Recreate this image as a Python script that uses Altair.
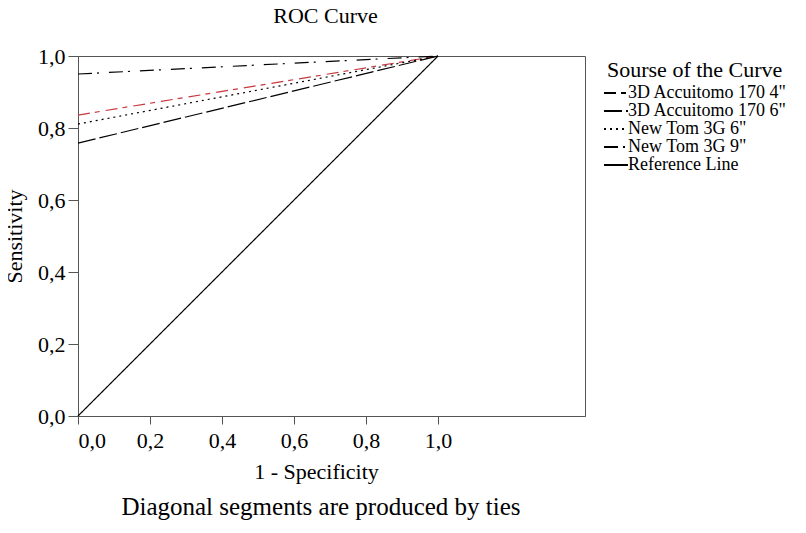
import altair as alt
import pandas as pd

# Data
series = ['3D Accuitomo 170 4"', '3D Accuitomo 170 6"', 'New Tom 3G 6"', 'New Tom 3G 9"', 'Reference Line']
start_fpr = [0.0, 0.0, 0.0, 0.0, 0.0]
start_sens = [0.836, 0.758, 0.811, 0.950, 0.0]
end_fpr = [1.0, 1.0, 1.0, 1.0, 1.0]
end_sens = [1.0, 1.0, 1.0, 1.0, 1.0]
x_ticks = [0.0, 0.2, 0.4, 0.6, 0.8, 1.0]
y_ticks = [0.0, 0.2, 0.4, 0.6, 0.8, 1.0]
footnote = ["Diagonal segments are produced by ties"]

rows = []
for s, x0, y0, x1, y1 in zip(series, start_fpr, start_sens, end_fpr, end_sens):
    rows.append({"series": s, "fpr": x0, "sens": y0, "step": 0})
    rows.append({"series": s, "fpr": x1, "sens": y1, "step": 1})
df = pd.DataFrame(rows)

FONT = "Liberation Serif"
label_expr = "replace(format(datum.value, '.1f'), '.', ',')"

dash_range = [[12, 5, 5, 6], [18, 4], [2, 4], [14, 5, 2, 10], [1, 0]]
RED = "#c8383f"

lines = alt.Chart(df).mark_line(strokeWidth=1.2).encode(
    x=alt.X("fpr:Q", scale=alt.Scale(domain=[0, 1.408], nice=False, zero=False),
            axis=alt.Axis(values=x_ticks, labelExpr=label_expr, title="1 - Specificity",
                          grid=False, tickSize=8, labelPadding=6, labelFontSize=22,
                          labelFont=FONT, titleFont=FONT, titleFontSize=22,
                          titleFontWeight="normal", titleX=238, titleY=62,
                          titleBaseline="alphabetic", domainColor="#555", tickColor="#555",
                          labelColor="black", titleColor="black")),
    y=alt.Y("sens:Q", scale=alt.Scale(domain=[0, 1], nice=False),
            axis=alt.Axis(values=y_ticks, labelExpr=label_expr, title="Sensitivity",
                          grid=False, tickSize=10, labelPadding=3, labelFontSize=22,
                          labelFont=FONT, titleFont=FONT, titleFontSize=22,
                          titleFontWeight="normal", titleX=-57, titleY=180,
                          titleBaseline="alphabetic", domainColor="#555", tickColor="#555",
                          labelColor="black", titleColor="black")),
    strokeDash=alt.StrokeDash("series:N", scale=alt.Scale(domain=series, range=dash_range),
                              legend=alt.Legend(title="Sourse of the Curve", orient="none",
                                                legendX=529, legendY=4,
                                                titleFont=FONT, titleFontSize=22,
                                                titleFontWeight="normal", titleColor="black",
                                                titleLimit=400,
                                                labelFont=FONT, labelFontSize=18,
                                                labelColor="black", labelOffset=3,
                                                symbolType="M-3,0H3", symbolSize=64,
                                                symbolStrokeColor="black", symbolStrokeWidth=2,
                                                symbolFillColor="transparent",
                                                rowPadding=0, titlePadding=2,
                                                labelLimit=300)),
    color=alt.condition(alt.datum.series == series[0], alt.value(RED), alt.value("black")),
    order="step:Q",
)

note = alt.Chart(pd.DataFrame({"t": footnote})).mark_text(
    font=FONT, fontSize=25, color="black", align="center", baseline="alphabetic"
).encode(text="t:N", x=alt.value(243), y=alt.value(459))

chart = alt.layer(lines, note).properties(
    width=507, height=360,
    title=alt.TitleParams("ROC Curve", font=FONT, fontSize=22, fontWeight="normal",
                          color="black", anchor="middle", dx=-6, dy=-1, offset=16),
    autosize=alt.AutoSizeParams(type="none"),
    padding={"left": 70, "top": 48, "right": 213, "bottom": 109},
).configure_view(stroke="#555", strokeWidth=1)

chart.save("out.html", embed_options={"renderer": "svg", "actions": False})
